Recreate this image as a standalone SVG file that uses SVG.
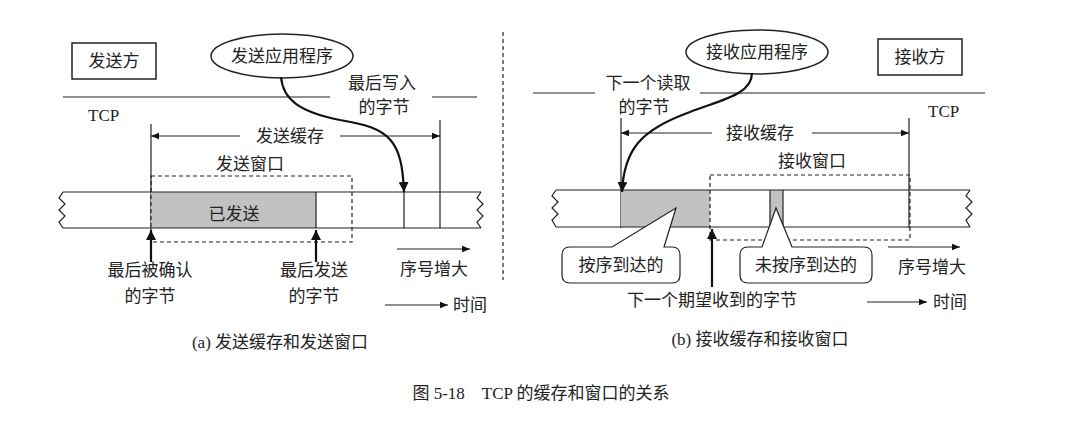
<svg xmlns="http://www.w3.org/2000/svg" width="1082" height="424" viewBox="0 0 1082 424">
<defs>
<marker id="a" viewBox="0 0 10 10" refX="10" refY="5" markerWidth="8" markerHeight="8" markerUnits="userSpaceOnUse" orient="auto-start-reverse"><path d="M0,1 L10,5 L0,9 z" fill="#111"/></marker>
<marker id="b" viewBox="0 0 10 10" refX="10" refY="5" markerWidth="10" markerHeight="10" markerUnits="userSpaceOnUse" orient="auto"><path d="M0,0 L10,5 L0,10 z" fill="#111"/></marker>
</defs>
<style>
text{font-family:"Liberation Serif","Noto Sans CJK SC",serif;font-size:17px;fill:#222}
.c{text-anchor:middle}
.l{stroke:#222;stroke-width:1.2;fill:none}
.t{stroke:#111;stroke-width:2.2;fill:none}
.d{stroke:#222;stroke-width:1.2;fill:none;stroke-dasharray:4,3}
.g{fill:#c2c2c2}
.box{fill:#fff;stroke:#222;stroke-width:1.5}
</style>
<rect width="1082" height="424" fill="#fff"/>
<g id="left">
<g id="sender-box"><rect class="box" x="72" y="43" width="84" height="36"/><text class="c" x="114" y="67">发送方</text></g>
<g id="send-app"><ellipse class="box" cx="282" cy="56" rx="71" ry="22"/><text class="c" x="282" y="62">发送应用程序</text></g>
<path class="l" d="M63,97 H330 M432,97 H477"/>
<text x="88" y="121">TCP</text>
<text class="c" x="382" y="89">最后写入</text>
<text class="c" x="384" y="113">的字节</text>
<path class="l" d="M151,124 V230 M440,120 V228"/>
<path class="l" d="M151,136 H240" marker-start="url(#a)"/>
<path class="l" d="M340,136 H440" marker-end="url(#a)"/>
<text class="c" x="290" y="142">发送缓存</text>
<text class="c" x="250" y="170">发送窗口</text>
<rect class="g" x="151" y="192" width="165" height="36"/>
<text class="c" x="234" y="220">已发送</text>
<path class="l" d="M63,192 H481 M63,228 H481 M316,192 V228 M404,192 V228"/>
<path class="l" d="M63,192 l-4,6 l6,6 l-6,6 l6,6 l-6,6 l4,6 M481,192 l-4,6 l6,6 l-6,6 l6,6 l-6,6 l4,6"/>
<rect class="d" x="151" y="176" width="201" height="66"/>
<path class="t" d="M281,77 C283,100 300,112 340,120 C390,128 402,140 404,192" marker-end="url(#b)"/>
<path class="t" d="M151,262 V230" marker-end="url(#b)"/>
<path class="t" d="M316,262 V230" marker-end="url(#b)"/>
<text class="c" x="150" y="276">最后被确认</text>
<text class="c" x="150" y="302">的字节</text>
<text class="c" x="314" y="276">最后发送</text>
<text class="c" x="314" y="302">的字节</text>
<path class="l" d="M397,249 H470" marker-end="url(#a)"/>
<text class="c" x="434" y="275">序号增大</text>
<path class="l" d="M385,305 H448" marker-end="url(#a)"/>
<text x="453" y="311">时间</text>
</g>
<path class="d" d="M503,32 V280" stroke-dasharray="7,5"/>
<g id="right">
<g id="recv-app"><ellipse class="box" cx="757" cy="52" rx="71" ry="22"/><text class="c" x="757" y="58">接收应用程序</text></g>
<g id="receiver-box"><rect class="box" x="878" y="39" width="84" height="36"/><text class="c" x="920" y="63">接收方</text></g>
<path class="l" d="M533,93 H595 M700,93 H985"/>
<text class="c" x="648" y="89">下一个读取</text>
<text class="c" x="644" y="113">的字节</text>
<text x="928" y="117">TCP</text>
<path class="l" d="M621,118 V228 M909,118 V228"/>
<path class="l" d="M621,133 H712" marker-start="url(#a)"/>
<path class="l" d="M812,133 H909" marker-end="url(#a)"/>
<text class="c" x="760" y="139">接收缓存</text>
<text class="c" x="812" y="167">接收窗口</text>
<rect class="g" x="621" y="190" width="89" height="37"/>
<rect class="g" x="770" y="190" width="13" height="37"/>
<path class="l" d="M556,190 H970 M556,227 H970 M770,190 V227 M783,190 V227"/>
<path class="l" d="M556,190 l-4,6 l6,6 l-6,6 l6,6 l-6,6 l4,7 M970,190 l-4,6 l6,6 l-6,6 l6,6 l-6,6 l4,7"/>
<rect class="d" x="710" y="175" width="200" height="65"/>
<path class="t" d="M752,73 C752,95 720,100 690,112 C640,130 624,150 622,192" marker-end="url(#b)"/>
<g id="callout-inorder"><path d="M574,247 H612 L676,208 L664,247 H672 Q680,247 680,255 V275 Q680,283 672,283 H570 Q562,283 562,275 V255 Q562,247 570,247 Z" fill="#fff" stroke="#222" stroke-width="1.2"/><text class="c" x="621" y="271">按序到达的</text></g>
<g id="callout-outorder"><path d="M748,247 H762 L776,208 L792,247 H864 Q872,247 872,255 V275 Q872,283 864,283 H748 Q740,283 740,275 V255 Q740,247 748,247 Z" fill="#fff" stroke="#222" stroke-width="1.2"/><text class="c" x="806" y="271">未按序到达的</text></g>
<path class="t" d="M712,287 V229" marker-end="url(#b)"/>
<text class="c" x="712" y="306">下一个期望收到的字节</text>
<path class="l" d="M888,247 H960" marker-end="url(#a)"/>
<text class="c" x="932" y="273">序号增大</text>
<path class="l" d="M867,302 H927" marker-end="url(#a)"/>
<text x="933" y="308">时间</text>
</g>
<text class="c" x="280" y="348" font-size="16">(a) 发送缓存和发送窗口</text>
<text class="c" x="760" y="345" font-size="16">(b) 接收缓存和接收窗口</text>
<text class="c" x="541" y="399" font-size="17">图 5-18　TCP 的缓存和窗口的关系</text>
</svg>
